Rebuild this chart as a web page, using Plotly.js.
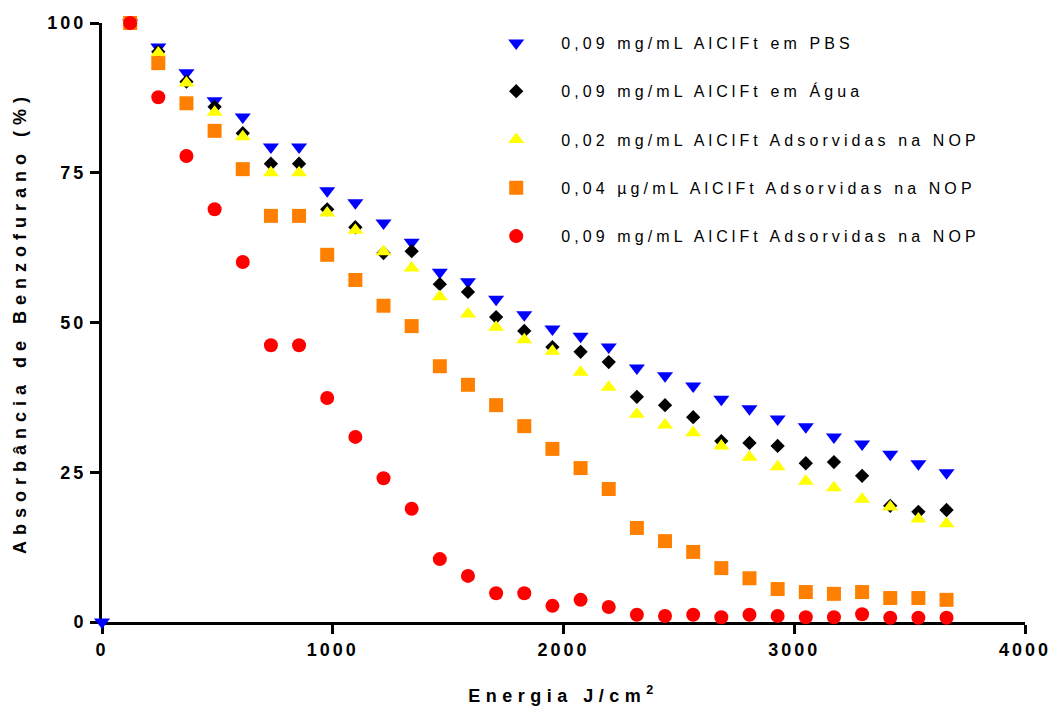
<!DOCTYPE html>
<html>
<head>
<meta charset="utf-8">
<script src="https://cdn.plot.ly/plotly-3.0.1.min.js"></script>
<style>
  html, body { margin: 0; padding: 0; background: #fff; }
  #chart { width: 1052px; height: 713px; }
  .legendtext { letter-spacing: 4.1px; }
  .xtick text, .ytick text { letter-spacing: 3px; }
  .g-xtitle text { letter-spacing: 5.5px; }
  .g-ytitle text { letter-spacing: 6px; }
</style>
</head>
<body>
<div id="chart"></div>
<script>
// Energy (J/cm²)
const energia = [122,244,366,488,610,732,854,976,1098,1220,1342,1464,1586,1708,1830,1952,2074,2196,2318,2440,2562,2684,2806,2928,3050,3172,3294,3416,3538,3660];
const energiaPBS = [0].concat(energia);

// Absorbance (%)
const pbs   = [0,100,96.0,91.7,87.0,84.3,79.3,79.3,72.0,70.0,66.6,63.4,58.4,56.8,53.9,51.3,48.9,47.7,45.9,42.4,41.1,39.4,37.2,35.6,33.9,32.6,30.9,29.7,28.0,26.4,24.9];
const agua  = [100,95.2,90.2,86.0,81.6,76.5,76.5,68.9,65.9,61.6,61.9,56.4,55.1,50.9,48.6,45.9,45.1,43.4,37.6,36.2,34.2,30.2,29.9,29.4,26.5,26.7,24.4,19.4,18.4,18.7];
const nop002 = [100,95.0,90.0,85.1,81.0,75.0,75.0,68.3,65.4,61.8,59.1,54.3,51.4,49.2,47.1,45.2,41.7,39.2,34.7,32.9,31.6,29.4,27.5,25.9,23.5,22.4,20.5,19.2,17.2,16.4];
const nop004 = [100,93.3,86.6,82.0,75.6,67.8,67.8,61.3,57.1,52.8,49.4,42.7,39.6,36.2,32.7,28.9,25.7,22.2,15.7,13.5,11.7,9.0,7.3,5.5,5.0,4.7,5.0,4.0,4.0,3.7];
const nop009 = [100,87.6,77.8,68.9,60.1,46.2,46.2,37.4,30.9,24.0,18.9,10.5,7.7,4.8,4.8,2.7,3.7,2.5,1.2,1.0,1.2,0.8,1.2,1.0,0.8,0.8,1.3,0.7,0.7,0.7];

const names = [
  "0,09 mg/mL AlClFt em PBS",
  "0,09 mg/mL AlClFt em Água",
  "0,02 mg/mL AlClFt Adsorvidas na NOP",
  "0,04 \u00b5g/mL AlClFt Adsorvidas na NOP",
  "0,09 mg/mL AlClFt Adsorvidas na NOP"
];
const xTicks = [0,1000,2000,3000,4000];
const yTicks = [0,25,50,75,100];

function tr(x, y, name, color, symbol, size, g) {
  return {
    x: x, y: y, name: name, type: 'scatter', mode: 'markers',
    legendgroup: g, cliponaxis: false,
    marker: { color: color, symbol: symbol, size: size, line: { width: 0 } }
  };
}

const data = [
  tr(energiaPBS, pbs, names[0], '#0000ff', 'triangle-down', 14, 'a'),
  tr(energia, agua, names[1], '#000000', 'diamond', 11, 'b'),
  tr(energia, nop002, names[2], '#ffff00', 'triangle-up', 14, 'c'),
  tr(energia, nop004, names[3], '#ff8000', 'square', 14, 'd'),
  tr(energia, nop009, names[4], '#ff0000', 'circle', 14, 'e')
];

const layout = {
  width: 1052, height: 713,
  margin: { l: 102, r: 27, t: 23, b: 91 },
  paper_bgcolor: '#ffffff', plot_bgcolor: '#ffffff',
  font: { family: 'Liberation Sans, Arial, sans-serif', color: '#000' },
  showlegend: true,
  legend: {
    x: 0.4, y: 0.995, xanchor: 'left', yanchor: 'top',
    bgcolor: 'rgba(0,0,0,0)', borderwidth: 0,
    font: { size: 16, color: '#000' },
    itemwidth: 80, tracegroupgap: 24.5, traceorder: 'grouped'
  },
  xaxis: {
    range: [0, 4000], tickvals: xTicks, ticktext: xTicks.map(String),
    showgrid: false, zeroline: false, showline: true, linecolor: '#000', linewidth: 3,
    ticks: 'outside', ticklen: 9, tickwidth: 3, tickcolor: '#000',
    tickfont: { size: 18, family: 'Liberation Sans, Arial, sans-serif', weight: 'bold' },
    layer: 'below traces',
    title: { text: '<b>Energia J/cm<sup>2</sup></b>', font: { size: 18 }, standoff: 31 }
  },
  yaxis: {
    range: [0, 100], tickvals: yTicks, ticktext: yTicks.map(String),
    showgrid: false, zeroline: false, showline: true, linecolor: '#000', linewidth: 3,
    ticks: 'outside', ticklen: 9, tickwidth: 3, tickcolor: '#000',
    tickfont: { size: 18, family: 'Liberation Sans, Arial, sans-serif', weight: 'bold' },
    layer: 'below traces',
    title: { text: '<b>Absorbância de Benzofurano (%)</b>', font: { size: 18 }, standoff: 17 }
  }
};

Plotly.newPlot('chart', data, layout, { displayModeBar: false, staticPlot: true });
</script>
</body>
</html>
